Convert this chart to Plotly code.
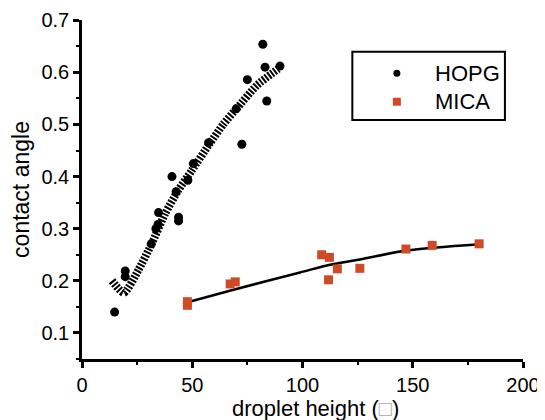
import plotly.graph_objects as go

# HOPG data points
hopg_x = [14.8, 19.6, 19.6, 31.4, 33.5, 34.5, 34.7, 40.8, 42.7, 43.8, 43.8, 48.0,
          50.5, 57.4, 69.9, 72.5, 75.0, 82.0, 83.0, 83.8, 89.8]
hopg_y = [0.140, 0.219, 0.208, 0.271, 0.300, 0.308, 0.331, 0.400, 0.371, 0.322, 0.315, 0.393,
          0.425, 0.465, 0.530, 0.462, 0.586, 0.654, 0.610, 0.545, 0.612]

# MICA data points
mica_x = [47.8, 47.8, 67.2, 69.5, 108.7, 112.2, 115.8, 111.8, 126.0, 146.9, 158.8, 180.1]
mica_y = [0.153, 0.160, 0.194, 0.198, 0.250, 0.245, 0.223, 0.202, 0.224, 0.261, 0.268, 0.271]

# Fit curves
hopg_fit_x = [13.6, 19.0, 25.6, 31.7, 37.7, 43.7, 49.8, 58.0, 64.0, 70.0, 79.3, 89.0]
hopg_fit_y = [0.200, 0.177, 0.221, 0.272, 0.329, 0.374, 0.412, 0.464, 0.500, 0.530, 0.575, 0.607]

mica_fit_x = [48.7, 68.7, 98.9, 112.5, 126.1, 147.2, 180.4]
mica_fit_y = [0.160, 0.183, 0.216, 0.231, 0.241, 0.258, 0.270]

x_ticks = [0, 50, 100, 150, 200]
y_ticks = [0.1, 0.2, 0.3, 0.4, 0.5, 0.6, 0.7]

series_names = ["HOPG", "MICA"]
x_title = "droplet height (<span style='color:#aaaaaa'>□</span>)"
y_title = "contact angle"

FONT = "Liberation Sans, Arial, Helvetica, sans-serif"
MICA_COLOR = "#d04a26"

fig = go.Figure()

fig.add_trace(go.Scatter(
    x=hopg_fit_x, y=hopg_fit_y, mode="lines", showlegend=False,
    line=dict(color="black", width=8, dash="2px,1.5px", shape="spline", smoothing=0.6),
    hoverinfo="skip"))
fig.add_trace(go.Scatter(
    x=mica_fit_x, y=mica_fit_y, mode="lines", showlegend=False,
    line=dict(color="black", width=2.5, shape="spline", smoothing=0.8),
    hoverinfo="skip"))

fig.add_trace(go.Scatter(
    x=hopg_x, y=hopg_y, mode="markers", name=series_names[0], showlegend=False,
    marker=dict(symbol="circle", size=9, color="black")))
fig.add_trace(go.Scatter(
    x=mica_x, y=mica_y, mode="markers", name=series_names[1], showlegend=False,
    marker=dict(symbol="square", size=9, color=MICA_COLOR)))

axis_common = dict(
    showline=True, linecolor="black", linewidth=2.5, mirror=False,
    showgrid=False, zeroline=False, automargin=False,
    ticks="outside", ticklen=6, tickwidth=2.5, tickcolor="black",
    tickfont=dict(family=FONT, size=20, color="black"),
)

# Legend box (drawn as shapes + text so row spacing matches the reference)
shapes = [dict(type="rect", xref="paper", yref="paper",
               x0=0.613, x1=0.959, y0=0.705, y1=0.9065,
               line=dict(color="black", width=2), fillcolor="white", layer="above")]
leg_rows_y = [0.843, 0.759]
shapes.append(dict(type="circle", xref="paper", yref="paper",
                   xsizemode="pixel", ysizemode="pixel",
                   xanchor=0.714, yanchor=leg_rows_y[0],
                   x0=-3.5, x1=3.5, y0=-3.5, y1=3.5,
                   fillcolor="black", line=dict(width=0), layer="above"))
shapes.append(dict(type="rect", xref="paper", yref="paper",
                   xsizemode="pixel", ysizemode="pixel",
                   xanchor=0.714, yanchor=leg_rows_y[1],
                   x0=-4, x1=4, y0=-4, y1=4,
                   fillcolor=MICA_COLOR, line=dict(width=0), layer="above"))
annotations = [dict(xref="paper", yref="paper", x=0.796, y=yy, text=nm,
                    xanchor="left", yanchor="middle", showarrow=False,
                    font=dict(family=FONT, size=22, color="black"))
               for nm, yy in zip(series_names, leg_rows_y)]
# x-axis title as annotation (so it is not clamped inside the margin)
annotations.append(dict(xref="paper", yref="paper", x=0.53, y=0, yshift=-49,
                        xanchor="center", yanchor="middle", showarrow=False,
                        text=x_title, font=dict(family=FONT, size=22, color="black")))

# margins compensate for the 8px page margin around the plot div
fig.update_layout(
    width=545, height=420,
    margin=dict(l=74, r=30, t=12, b=69),
    paper_bgcolor="white", plot_bgcolor="white",
    font=dict(family=FONT, color="black"),
    showlegend=False,
    shapes=shapes, annotations=annotations,
    xaxis=dict(
        range=[0, 200], tickvals=x_ticks, ticktext=[str(v) for v in x_ticks],
        minor=dict(dtick=25, ticks="outside", ticklen=3, tickwidth=2, tickcolor="black"),
        **axis_common),
    yaxis=dict(
        range=[0.05, 0.7005], tickvals=y_ticks, ticktext=[f"{v:.1f}" for v in y_ticks],
        minor=dict(dtick=0.05, tick0=0.05, ticks="outside", ticklen=3, tickwidth=2, tickcolor="black"),
        title=dict(text=y_title,
                   font=dict(family=FONT, size=23, color="black"), standoff=6),
        **axis_common),
)

fig.write_html("out.html")
